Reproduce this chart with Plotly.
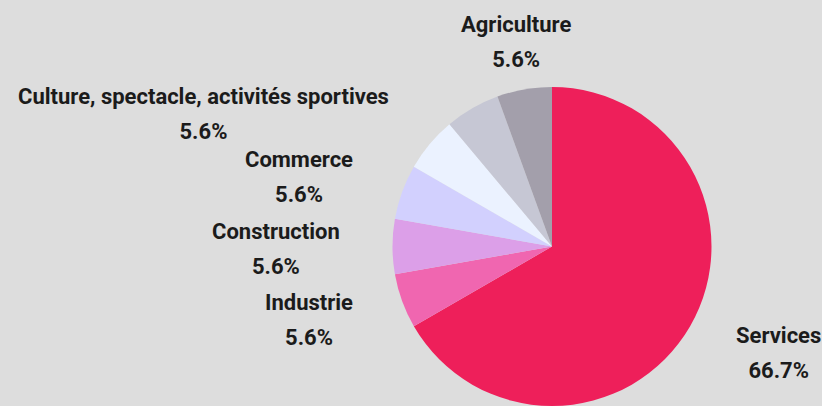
import math
import plotly.graph_objects as go

# ----------------- DATA ----------------- #
sectors = ["Services", "Industrie", "Construction", "Commerce",
           "Culture, spectacle, activités sportives", "Autres", "Agriculture"]
counts = [12, 1, 1, 1, 1, 1, 1]
show_label = [True, True, True, True, True, False, True]
colors = ["#ee1f5a", "#f066b0", "#dc9fe8", "#d2d0fe", "#ebf2ff", "#c6c7d4", "#a39fab"]

# ----------------- LAYOUT GEOMETRY (pixels) ----------------- #
W, H = 822, 406
CX, CY, R = 552, 246.5, 159.5
LABEL_R = 210

fig = go.Figure(go.Pie(
    labels=sectors, values=counts, sort=False, direction="clockwise", rotation=0,
    marker=dict(colors=colors, line=dict(width=0)),
    textinfo="none", hoverinfo="label+percent", showlegend=False,
    domain=dict(x=[(CX - R) / W, (CX + R) / W], y=[1 - (CY + R) / H, 1 - (CY - R) / H]),
))

# data labels outside the slices, no connectors
total = sum(counts)
cum = 0
for name, v, show in zip(sectors, counts, show_label):
    mid = math.radians((cum + v / 2) / total * 360)
    cum += v
    if not show:
        continue
    s, c = math.sin(mid), math.cos(mid)
    px_, py_ = CX + LABEL_R * s, CY - LABEL_R * c
    xanchor = "center" if abs(s) < 0.3 else ("left" if s > 0 else "right")
    pct = f"{v / total * 100:.1f}%"
    fig.add_annotation(
        x=px_ / W, y=1 - (py_ + 2) / H, xref="paper", yref="paper",
        xanchor=xanchor, yanchor="middle", align="center", showarrow=False,
        text=f"<span style='font-size:22px'><b>{name}</b></span><br>"
             f"<span style='font-size:22px'><b>{pct}</b></span>",
        font=dict(family="Roboto", size=27, color="#1b1b1b"),
    )

fig.update_layout(
    width=W, height=H, margin=dict(l=0, r=0, t=0, b=0),
    paper_bgcolor="#dddddd", plot_bgcolor="#dddddd",
)

fig.write_html("out.html", config={"displayModeBar": False},
               post_script="document.body.style.margin='0';")
